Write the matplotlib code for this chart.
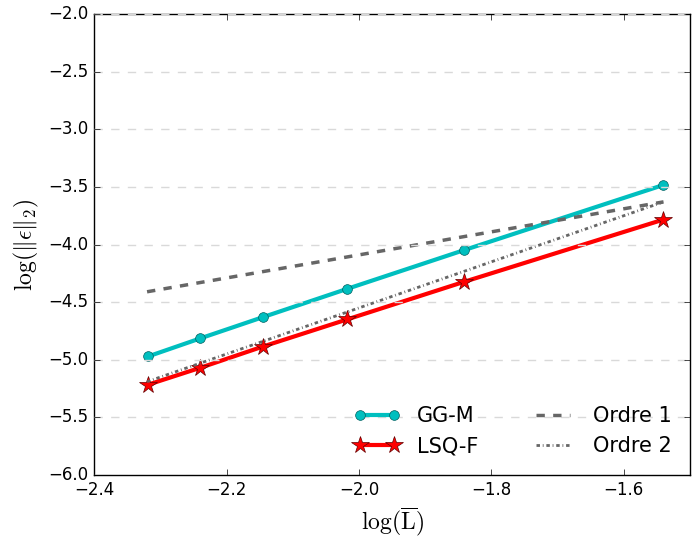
import numpy as np
import matplotlib
matplotlib.use('Agg')
import matplotlib.pyplot as plt

# donnees (log10)
logL = [-2.318, -2.240, -2.145, -2.018, -1.842, -1.541]
gg_m = [-4.97, -4.815, -4.63, -4.385, -4.05, -3.485]
lsq_f = [-5.215, -5.07, -4.885, -4.65, -4.325, -3.785]

# droites de reference
ref_x = [-2.32, -1.54]
ordre1 = [-4.41, -3.63]
ordre2 = [-5.19, -3.63]

plt.style.use('classic')
plt.rcParams['mathtext.fontset'] = 'cm'
plt.rcParams['figure.facecolor'] = 'white'
plt.rcParams['savefig.facecolor'] = 'white'

fig = plt.figure(figsize=(6.97, 5.38), dpi=100)
ax = fig.add_axes([0.135, 0.117, 0.855, 0.857])

ax.plot(logL, gg_m, '-o', color='c', lw=3, ms=7, mec='#006060', label='GG-M')
ax.plot(logL, lsq_f, '-*', color='red', lw=3, ms=13, mec='#600000', label='LSQ-F')
ax.plot(ref_x, ordre1, '--', color='0.4', lw=2.5, label='Ordre 1')
ax.plot(ref_x, ordre2, color='0.4', lw=2, dashes=(2.5, 2, 0.6, 2), label='Ordre 2')

ax.set_xlim(-2.4, -1.5)
ax.set_ylim(-6.0, -2.0)
ax.set_xticks([-2.4, -2.2, -2.0, -1.8, -1.6])
ax.set_yticks(np.arange(-6.0, -1.9, 0.5))
ax.yaxis.grid(True, ls='--', color='0.85', lw=1)
ax.xaxis.grid(False)
ax.tick_params(labelsize=12)

ax.set_xlabel(r'$\log(\overline{\mathrm{L}})$', fontsize=17)
ax.set_ylabel(r'$\log(\|\epsilon\|_2)$', fontsize=17)

ax.legend(loc='lower right', ncol=2, frameon=False, fontsize=15, numpoints=2,
          handlelength=2.2, columnspacing=2.5)

fig.savefig('out.png', dpi=100)
